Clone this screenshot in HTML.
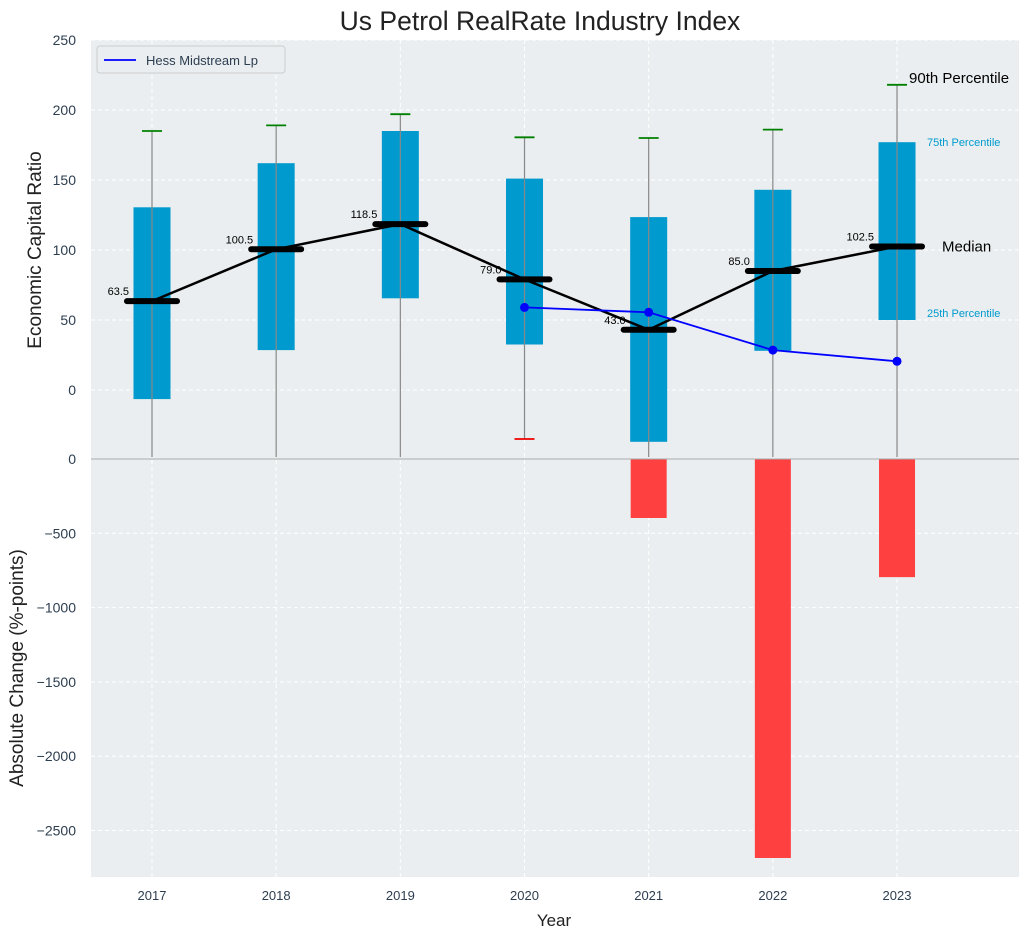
<!DOCTYPE html>
<html><head><meta charset="utf-8"><style>
body{margin:0;background:#fff;font-family:"Liberation Sans","DejaVu Sans",sans-serif}
</style></head><body>
<svg id="chart" width="1030" height="940" xmlns="http://www.w3.org/2000/svg" font-family="Liberation Sans, DejaVu Sans, sans-serif"></svg>
<script>
const years=[2017,2018,2019,2020,2021,2022,2023];
const p25=[-6.5,28.5,65.5,32.5,-37,28,50];
const p75=[130.5,162,185,151,123.5,143,177];
const p90=[185,189,197,180.5,180,186,218];
const p10=[null,null,null,-35,null,null,null];
const medians=[63.5,100.5,118.5,79.0,43.0,85.0,102.5];
const hessYears=[2020,2021,2022,2023];
const hessVals=[59,55.5,28.5,20.5];
const changes=[0,0,0,0,-397,-2685,-795];
const topTicks=[0,50,100,150,200,250];
const botTicks=[0,-500,-1000,-1500,-2000,-2500];

const svg=document.getElementById('chart');
const NS='http://www.w3.org/2000/svg';
function el(t,a,txt){const e=document.createElementNS(NS,t);for(const k in a)e.setAttribute(k,a[k]);if(txt!==undefined)e.textContent=txt;svg.appendChild(e);return e;}
const L=91,R=1019,T=40,MID=459,B=877;
const x=y=>152+(y-2017)*124.17;
const yT=v=>390-v*1.4;
const yB=v=>459-v*0.1486;

let e;
e=el('rect',{x:L,y:T,width:R-L,height:MID-T,fill:'#eaeef0'});

e=el('rect',{x:L,y:MID,width:R-L,height:B-MID,fill:'#eaeef0'});

topTicks.forEach(v=>{
 e=el('line',{x1:L,x2:R,y1:yT(v),y2:yT(v),stroke:'#fff','stroke-dasharray':'4,3'});
 
 e=el('text',{x:76,y:yT(v)+5,'text-anchor':'end','font-size':14,fill:'#2d3e50'},String(v));
 
});
botTicks.forEach(v=>{
 e=el('line',{x1:L,x2:R,y1:yB(v),y2:yB(v),stroke:'#fff','stroke-dasharray':'4,3'});
 
 e=el('text',{x:76,y:yB(v)+5,'text-anchor':'end','font-size':14,fill:'#2d3e50'},String(v).replace('-','−'));
 
});
years.forEach(yr=>{
 e=el('line',{x1:x(yr),x2:x(yr),y1:T,y2:B,stroke:'#fff','stroke-dasharray':'4,3'});
 
 e=el('text',{x:x(yr),y:900,'text-anchor':'middle','font-size':13,fill:'#2d3e50'},String(yr));
 
});
years.forEach((yr,i)=>{
 if(changes[i]===0)return;
 e=el('rect',{x:x(yr)-18,y:yB(0),width:36,height:yB(changes[i])-yB(0),fill:'#ff4040'});
 
});
e=el('line',{x1:L,x2:R,y1:MID,y2:MID,stroke:'#aaa','stroke-width':1});

years.forEach((yr,i)=>{
 const cx=x(yr);
 e=el('rect',{x:cx-18.5,y:yT(p75[i]),width:37,height:yT(p25[i])-yT(p75[i]),fill:'#009ace'});
 
 const lowY=p10[i]===null?MID-2:yT(p10[i]);
 e=el('line',{x1:cx,x2:cx,y1:yT(p90[i]),y2:lowY,stroke:'#888','stroke-width':1.2});
 
 e=el('line',{x1:cx-10,x2:cx+10,y1:yT(p90[i]),y2:yT(p90[i]),stroke:'green','stroke-width':1.8});
 
 if(p10[i]!==null){
  e=el('line',{x1:cx-10,x2:cx+10,y1:yT(p10[i]),y2:yT(p10[i]),stroke:'#e00','stroke-width':1.8});
  
 }
});
e=el('polyline',{points:years.map((yr,i)=>x(yr)+','+yT(medians[i])).join(' '),fill:'none',stroke:'#000','stroke-width':2.5});

years.forEach((yr,i)=>{
 e=el('line',{x1:x(yr)-25,x2:x(yr)+25,y1:yT(medians[i]),y2:yT(medians[i]),stroke:'#000','stroke-width':6,'stroke-linecap':'round'});
 
 e=el('text',{x:x(yr)-23,y:yT(medians[i])-6,'text-anchor':'end','font-size':11,fill:'#000'},medians[i].toFixed(1));
 
});
e=el('polyline',{points:hessYears.map((yr,i)=>x(yr)+','+yT(hessVals[i])).join(' '),fill:'none',stroke:'#0000ff','stroke-width':1.8});

hessYears.forEach((yr,i)=>{
 e=el('circle',{cx:x(yr),cy:yT(hessVals[i]),r:4.5,fill:'#0000ff'});
 
});
const ax=x(2023);
e=el('text',{x:ax+12,y:yT(218)-2,'font-size':15,fill:'#000'},'90th Percentile');

e=el('text',{x:ax+30,y:yT(177)+4,'font-size':11,fill:'#009ace'},'75th Percentile');

e=el('text',{x:ax+45,y:yT(102.5)+5,'font-size':15,fill:'#000'},'Median');

e=el('text',{x:ax+30,y:yT(50)-3,'font-size':11,fill:'#009ace'},'25th Percentile');

e=el('rect',{x:97,y:46,width:188,height:27,rx:3,fill:'#eaeef0',stroke:'#ccc'});

e=el('line',{x1:104,x2:136,y1:60,y2:60,stroke:'#0000ff','stroke-width':1.8});

e=el('text',{x:146,y:65,'font-size':13,fill:'#2d3e50'},'Hess Midstream Lp');

e=el('text',{x:540,y:30,'text-anchor':'middle','font-size':26.5,fill:'#222'},'Us Petrol RealRate Industry Index');

e=el('text',{x:554,y:926,'text-anchor':'middle','font-size':17,fill:'#222'},'Year');

e=el('text',{x:41,y:250,'text-anchor':'middle','font-size':19,fill:'#222',transform:'rotate(-90 41 250)'},'Economic Capital Ratio');

e=el('text',{x:23,y:668,'text-anchor':'middle','font-size':19,fill:'#222',transform:'rotate(-90 23 668)'},'Absolute Change (%-points)');

</script>
</body></html>
